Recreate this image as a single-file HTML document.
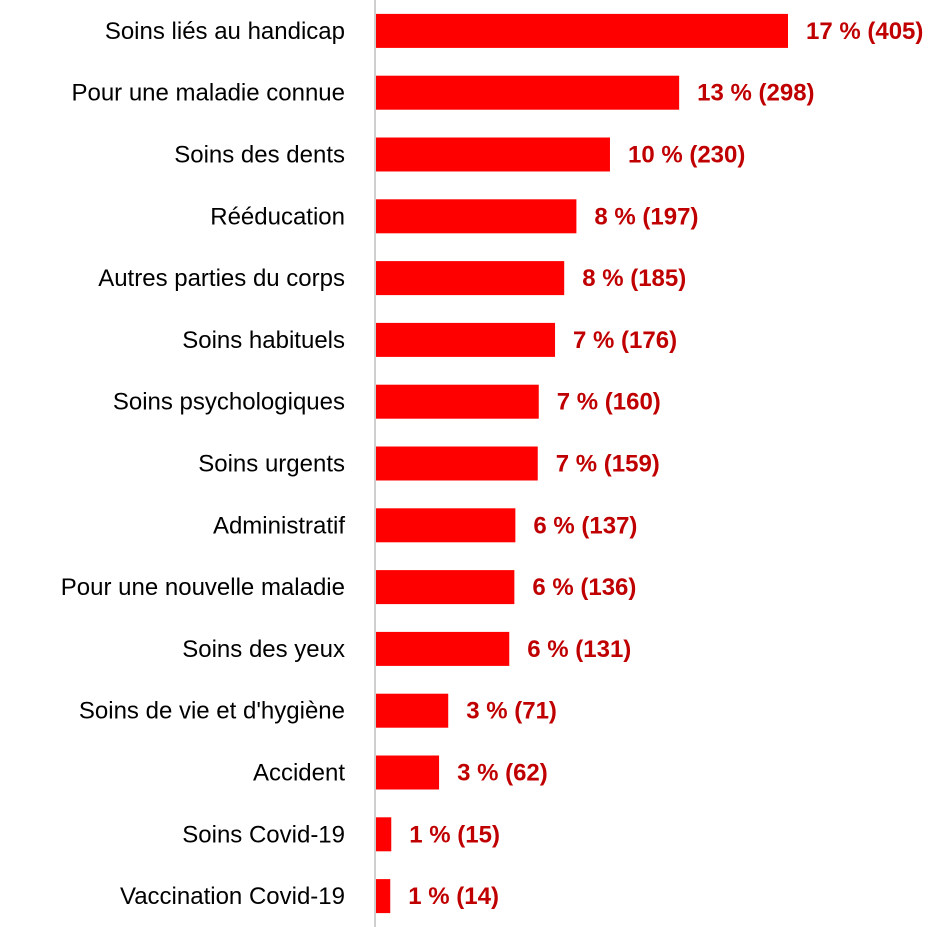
<!DOCTYPE html>
<html><head><meta charset="utf-8"><style>
body{margin:0;background:#fff;}
svg{display:block;font-family:"Liberation Sans",sans-serif;}
</style></head><body>
<svg id="chart" width="941" height="927"></svg>
<script>
const categories=["Soins liés au handicap","Pour une maladie connue","Soins des dents","Rééducation","Autres parties du corps","Soins habituels","Soins psychologiques","Soins urgents","Administratif","Pour une nouvelle maladie","Soins des yeux","Soins de vie et d'hygiène","Accident","Soins Covid-19","Vaccination Covid-19"];
const counts=[405,298,230,197,185,176,160,159,137,136,131,71,62,15,14];
const percents=[17,13,10,8,8,7,7,7,6,6,6,3,3,1,1];
const svg=document.getElementById('chart');
const NS='http://www.w3.org/2000/svg';
const x0=376, pxPerUnit=412/405, band=927/categories.length, barH=34;
const xs=v=>x0+v*pxPerUnit;
const yc=i=>band*i+band/2;
const axis=document.createElementNS(NS,'line');
axis.setAttribute('x1',375);axis.setAttribute('x2',375);axis.setAttribute('y1',0);axis.setAttribute('y2',927);
axis.setAttribute('stroke','#BFBFBF');axis.setAttribute('stroke-width','1.5');


svg.appendChild(axis);
categories.forEach((c,i)=>{
  const y=yc(i);
  const r=document.createElementNS(NS,'rect');
  r.setAttribute('x',x0);r.setAttribute('y',y-barH/2);r.setAttribute('width',xs(counts[i])-x0);r.setAttribute('height',barH);r.setAttribute('fill','#FF0000');
  
  
  svg.appendChild(r);
  const t=document.createElementNS(NS,'text');
  t.setAttribute('x',345);t.setAttribute('y',y+8);t.setAttribute('text-anchor','end');t.setAttribute('font-size','24');t.setAttribute('fill','#000');
  t.textContent=c;
  
  
  svg.appendChild(t);
  const v=document.createElementNS(NS,'text');
  v.setAttribute('x',xs(counts[i])+18);v.setAttribute('y',y+8);v.setAttribute('font-size','24');v.setAttribute('font-weight','bold');v.setAttribute('fill','#C00000');
  v.textContent=percents[i]+' % ('+counts[i]+')';
  
  
  svg.appendChild(v);
});
</script>
</body></html>
